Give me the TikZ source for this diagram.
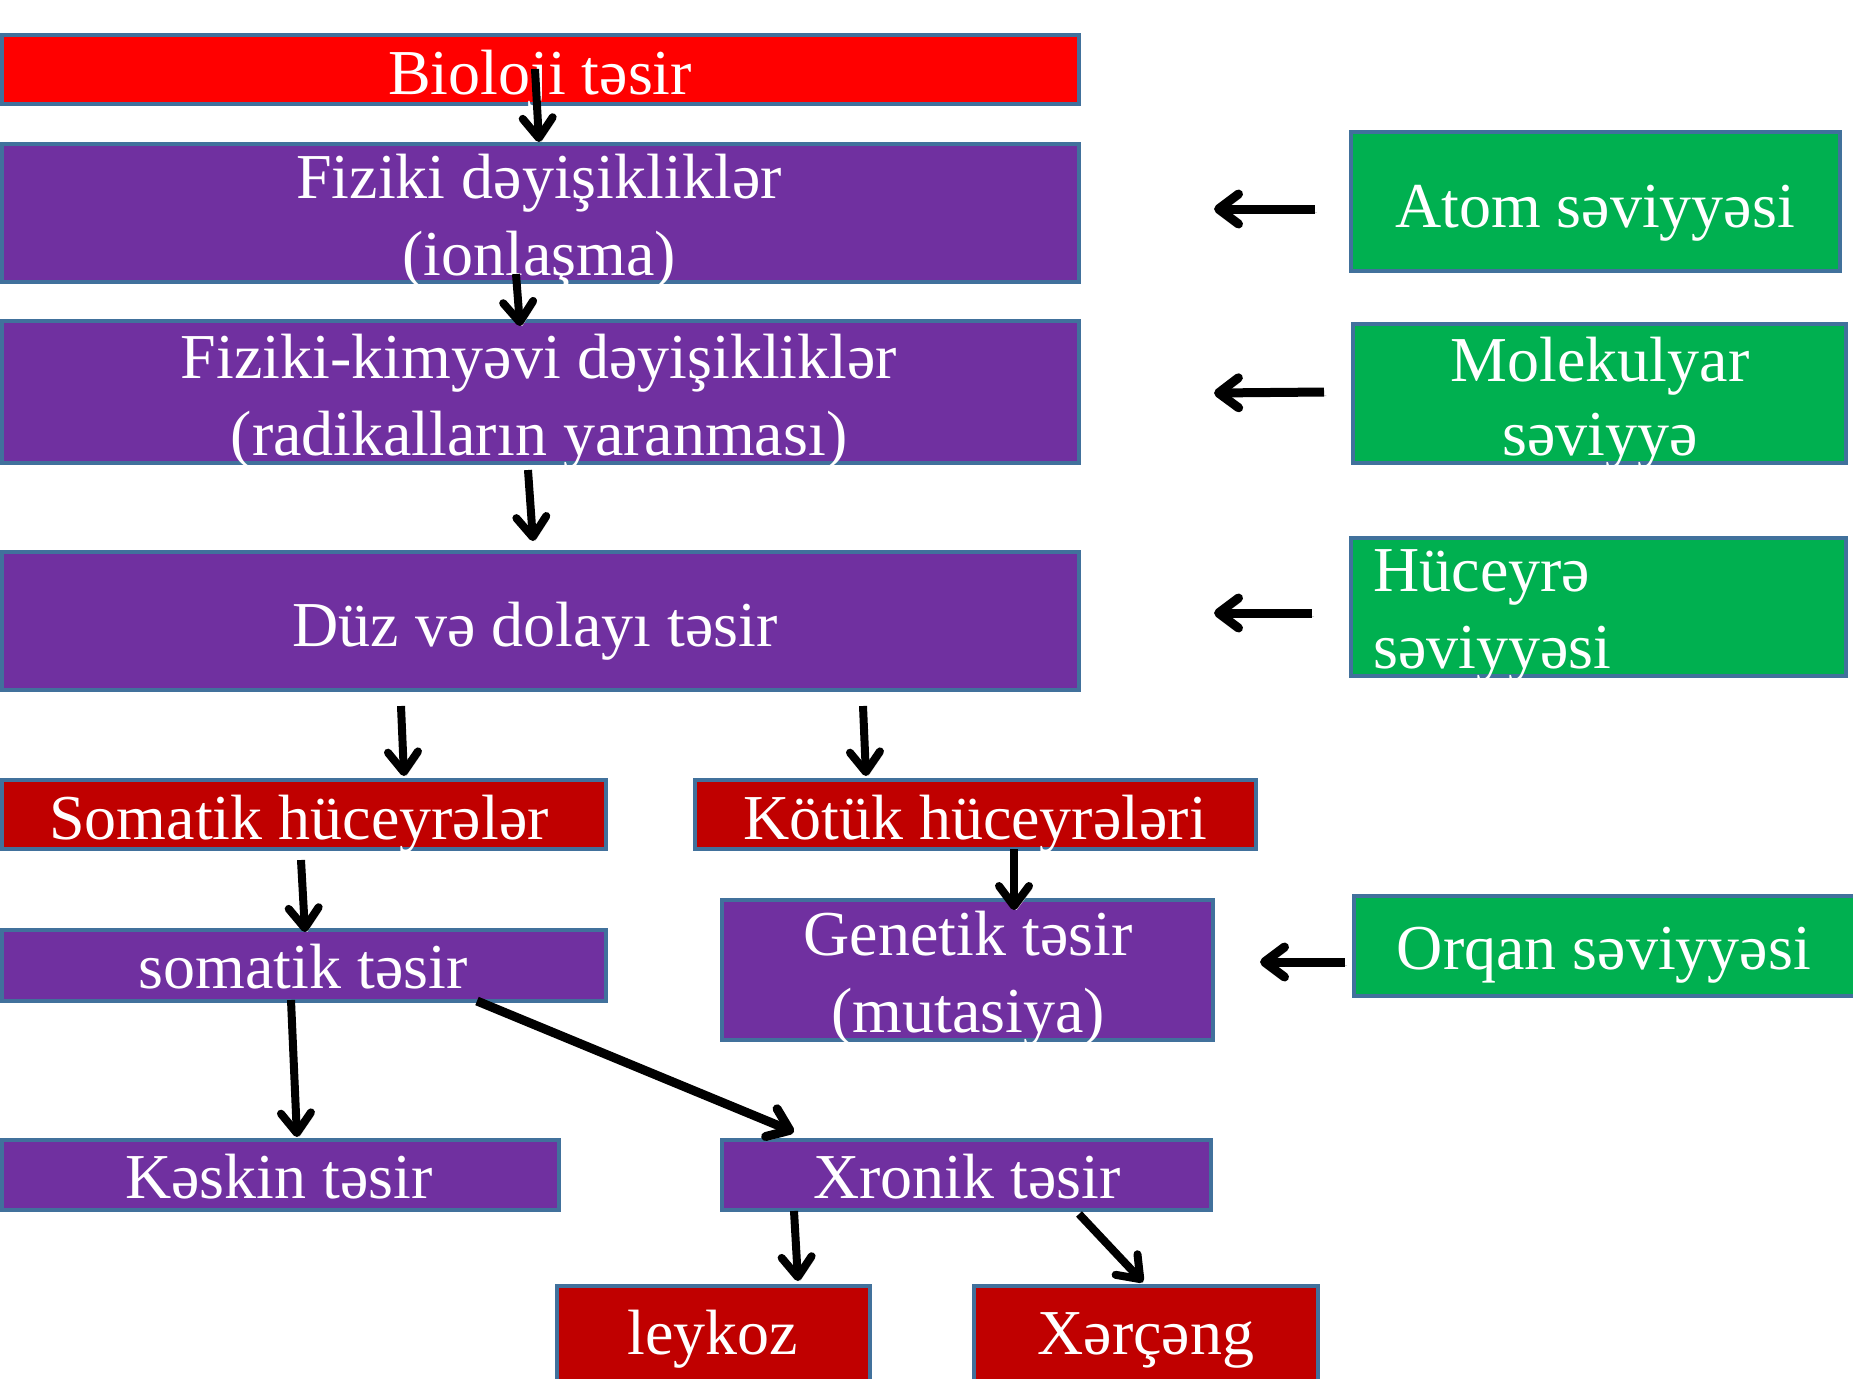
\documentclass[tikz,border=0pt]{standalone}
\usepackage{fontspec}
\setmainfont{Liberation Serif}
\usetikzlibrary{arrows.meta,fit}
\definecolor{cpurple}{HTML}{7030A0}
\definecolor{cgreen}{HTML}{00B050}
\definecolor{cred}{HTML}{FF0000}
\definecolor{cdred}{HTML}{C00000}
\definecolor{cborder}{HTML}{41719C}
\begin{document}
\begin{tikzpicture}[x=0.5pt,y=-0.5pt,
  box/.style={draw=cborder, line width=2pt, inner sep=0pt},
  pbox/.style={box, fill=cpurple},
  gbox/.style={box, fill=cgreen},
  rbox/.style={box, fill=cdred},
  txt/.style={text=white, font=\fontsize{32}{38.5}\selectfont, anchor=base, inner sep=0pt},
  arr/.style={line width=4pt, -{Straight Barb[length=10pt,width=15pt,line cap=round,line join=round]},
    preaction={draw=black!18, transform canvas={shift={(1.2pt,-1.8pt)}}}},
  harr/.style={arr, line width=4.5pt}]
\useasboundingbox (0,0) rectangle (1853,1378);
% boxes
\node[box, fill=cred, fit={(1.5,35)(1079,104)}] (bio) {};
\node[pbox, fit={(1.5,144)(1079,282)}] (fiz) {};
\node[pbox, fit={(1.5,321)(1079,463)}] (fk) {};
\node[pbox, fit={(1.5,552)(1079,690)}] (duz) {};
\node[rbox, fit={(1.5,780)(606,849)}] (somh) {};
\node[rbox, fit={(695,780)(1256,849)}] (kot) {};
\node[pbox, fit={(1.5,930)(606,1001)}] (somt) {};
\node[pbox, fit={(722,900)(1213,1040)}] (gen) {};
\node[pbox, fit={(1.5,1140)(559,1210)}] (kes) {};
\node[pbox, fit={(722,1140)(1211,1210)}] (xro) {};
\node[rbox, fit={(557,1286)(870,1390)}] (ley) {};
\node[rbox, fit={(974,1286)(1318,1390)}] (xer) {};
\node[gbox, fit={(1351,132)(1840,271)}] (atom) {};
\node[gbox, fit={(1353,324)(1846,463)}] (mol) {};
\node[gbox, fit={(1351,538)(1846,676)}] (huc) {};
\node[gbox, fit={(1354,896)(1862,996)}] (org) {};
% texts
\node[txt] (tbio) at (540,94) {Bioloji təsir};
\node[txt] (tfiz1) at (539,198) {Fiziki dəyişikliklər};
\node[txt] (tfiz2) at (539,275) {(ionlaşma)};
\node[txt] (tfk1) at (539,378) {Fiziki-kimyəvi dəyişikliklər};
\node[txt] (tfk2) at (539,455) {(radikalların yaranması)};
\node[txt] (tduz) at (535,646) {Düz və dolayı təsir};
\node[txt] (tsomh) at (299,839) {Somatik hüceyrələr};
\node[txt] (tkot) at (975,839) {Kötük hüceyrələri};
\node[txt] (tsomt) at (303,988) {somatik təsir};
\node[txt] (tgen1) at (968,955) {Genetik təsir};
\node[txt] (tgen2) at (968,1032) {(mutasiya)};
\node[txt] (tkes) at (279,1198) {Kəskin təsir};
\node[txt] (txro) at (967,1198) {Xronik təsir};
\node[txt] (tley) at (713,1354) {leykoz};
\node[txt] (txer) at (1146,1354) {Xərçəng};
\node[txt] (tatom) at (1595,227) {Atom səviyyəsi};
\node[txt] (tmol1) at (1600,381) {Molekulyar};
\node[txt] (tmol2) at (1600,455) {səviyyə};
\node[txt, anchor=base west] (thuc1) at (1373,591) {Hüceyrə};
\node[txt, anchor=base west] (thuc2) at (1373,668) {səviyyəsi};
\node[txt] (torg) at (1604,969) {Orqan səviyyəsi};
% arrow coordinates
\coordinate (a1s) at (535,69);   \coordinate (a1e) at (539,142);
\coordinate (a2s) at (516,274);  \coordinate (a2e) at (520,326);
\coordinate (a3s) at (528,470);  \coordinate (a3e) at (533,541);
\coordinate (a4s) at (401,706);  \coordinate (a4e) at (404,776);
\coordinate (a5s) at (863,706);  \coordinate (a5e) at (866,776);
\coordinate (a6s) at (301,860);  \coordinate (a6e) at (305,932);
\coordinate (a7s) at (1014,849); \coordinate (a7e) at (1014,910);
\coordinate (a8s) at (291,1000); \coordinate (a8e) at (297,1137);
\coordinate (a9s) at (477,1001); \coordinate (a9e) at (794,1132);
\coordinate (a10s) at (794,1211); \coordinate (a10e) at (798,1281);
\coordinate (a11s) at (1079,1214); \coordinate (a11e) at (1143,1282);
\coordinate (b1s) at (1315,209); \coordinate (b1e) at (1214,209);
\coordinate (b2s) at (1324,392); \coordinate (b2e) at (1214,393);
\coordinate (b3s) at (1312,613); \coordinate (b3e) at (1214,613);
\coordinate (b4s) at (1345,962); \coordinate (b4e) at (1260,962);
% arrows
\foreach \a in {a1,a2,a3,a4,a5,a6,a7,a8,a10,a11}
  \draw[arr] (\a s) -- (\a e);
\draw[arr, line width=4.5pt] (a9s) -- (a9e);
\foreach \a in {b1,b2,b3,b4}
  \draw[harr] (\a s) -- (\a e);
\end{tikzpicture}
\end{document}
